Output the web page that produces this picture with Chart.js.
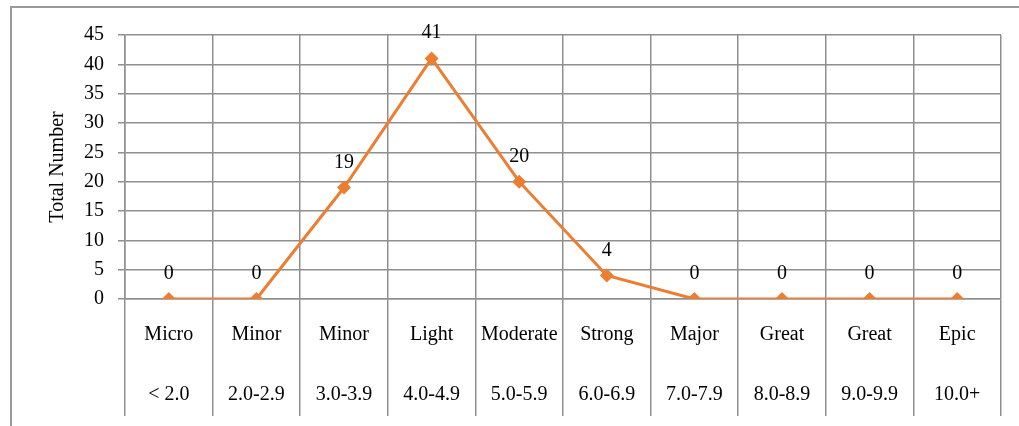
<!DOCTYPE html>
<html>
<head>
<meta charset="utf-8">
<script src="https://cdn.jsdelivr.net/npm/chart.js@4.4.1/dist/chart.umd.min.js"></script>
<style>
  html, body { margin: 0; padding: 0; background: #ffffff; overflow: hidden; }
  #frame { position: absolute; left: 10px; top: 6px; width: 1100px; height: 500px;
           border-left: 2.5px solid #9a9a9a; border-top: 2.5px solid #9a9a9a; }
  #wrap { position: absolute; left: 0; top: 0; width: 1019px; height: 426px; }
</style>
</head>
<body>
<div id="frame"></div>
<div id="wrap"><canvas id="chart"></canvas></div>
<script>
// Earthquake magnitude classes and their counts
const classNames = ['Micro', 'Minor', 'Minor', 'Light', 'Moderate', 'Strong', 'Major', 'Great', 'Great', 'Epic'];
const magnitudeRanges = ['< 2.0', '2.0-2.9', '3.0-3.9', '4.0-4.9', '5.0-5.9', '6.0-6.9', '7.0-7.9', '8.0-8.9', '9.0-9.9', '10.0+'];
const totals = [0, 0, 19, 41, 20, 4, 0, 0, 0, 0];
const yTicks = [0, 5, 10, 15, 20, 25, 30, 35, 40, 45];

const labels = classNames.map((name, i) => [name, magnitudeRanges[i]]);

const SERIF = '"Liberation Serif", "Times New Roman", serif';
const GRID = '#8f8f8f';

// Writes each point's value above its marker
const valueLabels = {
  id: 'valueLabels',
  afterDatasetsDraw(chart) {
    const ctx = chart.ctx;
    const meta = chart.getDatasetMeta(0);
    ctx.save();
    ctx.font = '20px ' + SERIF;
    ctx.fillStyle = '#000000';
    ctx.textAlign = 'center';
    ctx.textBaseline = 'alphabetic';
    meta.data.forEach((pt, i) => {
      ctx.fillText(String(totals[i]), pt.x, pt.y - 20);
    });
    ctx.restore();
  }
};

new Chart(document.getElementById('chart'), {
  type: 'line',
  data: {
    labels: labels,
    datasets: [{
      data: totals,
      borderColor: '#ED7D31',
      backgroundColor: '#ED7D31',
      borderWidth: 3,
      pointStyle: 'rectRot',
      pointRadius: 7,
      pointHoverRadius: 7,
      pointBackgroundColor: '#ED7D31',
      pointBorderColor: '#ED7D31',
      pointBorderWidth: 0,
      tension: 0,
      fill: false
    }]
  },
  options: {
    responsive: true,
    maintainAspectRatio: false,
    animation: false,
    layout: { padding: { left: 0, right: 18, top: 35, bottom: 0 } },
    plugins: {
      legend: { display: false },
      tooltip: { enabled: false }
    },
    scales: {
      x: {
        type: 'category',
        offset: true,
        grid: {
          offset: true,
          color: GRID,
          lineWidth: 1.5,
          drawTicks: true,
          tickLength: 117
        },
        border: { display: true, color: GRID, width: 1.5 },
        ticks: {
          color: '#000000',
          font: { family: SERIF, size: 20, lineHeight: '60px' },
          padding: -111,
          maxRotation: 0,
          autoSkip: false
        },
        afterFit(scale) { scale.height = 127; }
      },
      y: {
        min: 0,
        max: 45,
        afterBuildTicks(scale) { scale.ticks = yTicks.map(v => ({ value: v })); },
        grid: {
          color: GRID,
          lineWidth: 1.5,
          drawTicks: true,
          tickLength: 7
        },
        border: { display: true, color: GRID, width: 1.5 },
        ticks: {
          color: '#000000',
          font: { family: SERIF, size: 20 },
          padding: 14
        },
        title: {
          display: true,
          text: 'Total Number',
          color: '#000000',
          font: { family: SERIF, size: 20 },
          padding: { top: 46, bottom: 0 }
        },
        afterFit(scale) { scale.width = 125; }
      }
    }
  },
  plugins: [valueLabels]
});
</script>
</body>
</html>
